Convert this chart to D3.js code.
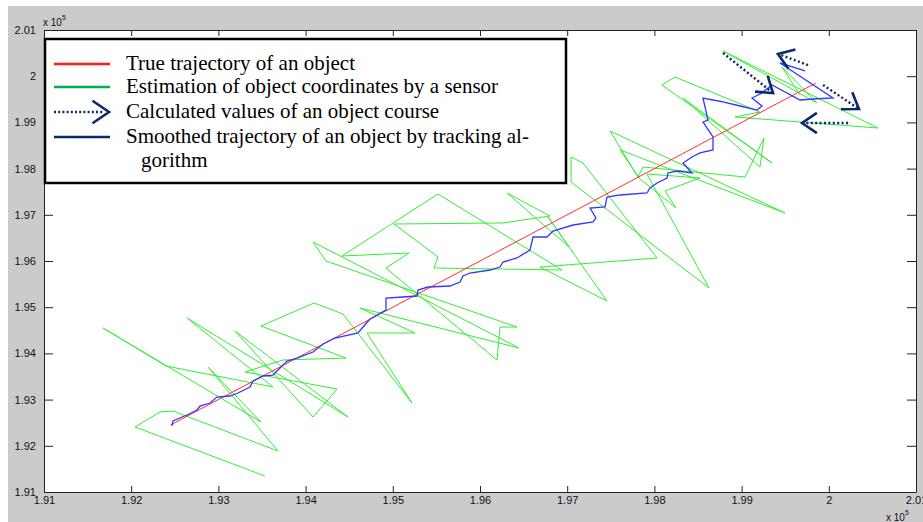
<!DOCTYPE html>
<html>
<head>
<meta charset="utf-8">
<script src="https://cdn.jsdelivr.net/npm/d3@7"></script>
<style>
  html, body { margin: 0; padding: 0; background: #fff; }
  svg { display: block; }
</style>
</head>
<body>
<div id="chart"></div>
<script>
// axis ticks (values are in metres, axes show them as x 10^5)
let xTicks = [191000, 192000, 193000, 194000, 195000, 196000, 197000, 198000, 199000, 200000, 201000]
let yTicks = [191000, 192000, 193000, 194000, 195000, 196000, 197000, 198000, 199000, 200000, 201000]
let tickLabels = ['1.91', '1.92', '1.93', '1.94', '1.95', '1.96', '1.97', '1.98', '1.99', '2', '2.01']

// true trajectory
let trueX = [192450, 194000, 196000, 198000, 199850]
let trueY = [192450, 194000, 196000, 198000, 199850]

// sensor estimates
let sensorX = [193534, 192044, 192330, 192479, 193684, 192881, 193489, 191677, 192399, 193626,
  192640, 194486, 193190, 194085, 194360, 193305, 193741, 194463, 193489, 194096,
  194429, 195220, 194704, 195255, 194624, 196447, 194085, 194234, 196424, 196229,
  196195, 194922, 195186, 194417, 195518, 196940, 195473, 195518, 195014, 196264,
  196803, 196310, 197021, 196780, 197456, 196688, 198030, 197181, 197044, 197044,
  198626, 197915, 198523, 198122, 198248, 197835, 197606, 199498, 197491, 197812,
  197869, 199039, 199257, 199211, 198328, 199349, 198087, 198236, 199211, 198924,
  200564, 198787, 199865, 199463, 199670]
let sensorY = [191346, 192407, 192732, 192753, 191887, 193706, 192515, 194550, 193727, 193273,
  194766, 192623, 194485, 192623, 193229, 193597, 193857, 193900, 194593, 195091,
  194853, 192926, 194442, 194442, 194983, 194117, 196411, 196000, 194571, 194571,
  193857, 195848, 196173, 196108, 197450, 195805, 195848, 196087, 196801, 196823,
  196974, 197472, 196303, 196952, 195134, 195870, 196065, 198121, 198251, 197710,
  195416, 197883, 197797, 197515, 197147, 197775, 198403, 197039, 198814, 197818,
  198035, 197818, 198662, 198035, 199528, 198121, 199810, 199983, 199225, 199117,
  198879, 200545, 199420, 200199, 199593]

// smoothed trajectory from the tracking algorithm
let smoothX = [192468, 192479, 192583, 192640, 192755, 192789, 192904, 192984, 193133, 193225,
  193362, 193397, 193511, 193626, 193706, 193787, 193901, 194085, 194200, 194337,
  194601, 194658, 194739, 194819, 194922, 194922, 195117, 195278, 195289, 195404,
  195656, 195771, 195805, 195885, 196115, 196229, 196264, 196424, 196573, 196608,
  196768, 196837, 197067, 197296, 197330, 197262, 197434, 197456, 197606, 197915,
  197950, 198030, 198145, 198156, 198259, 198431, 198328, 198431, 198523, 198672,
  198672, 198557, 198615, 198557, 198672, 198787, 198982, 199177, 199234, 199119,
  199211, 199349, 199670, 199819, 200048, 199440, 199727]
let smoothY = [192429, 192537, 192623, 192667, 192775, 192861, 192926, 193056, 193078, 193143,
  193273, 193403, 193511, 193532, 193684, 193835, 193900, 194030, 194203, 194333,
  194442, 194571, 194745, 194831, 194939, 195199, 195221, 195242, 195372, 195437,
  195459, 195545, 195675, 195740, 195805, 195870, 195978, 196065, 196238, 196519,
  196519, 196649, 196779, 196844, 196931, 197147, 197169, 197385, 197429, 197472,
  197580, 197688, 197797, 197905, 197948, 197905, 198121, 198251, 198338, 198403,
  198684, 199009, 199052, 199528, 199485, 199442, 199355, 199268, 199355, 199528,
  199615, 199810, 199485, 199506, 199528, 200286, 200113]

// calculated course values (arrow start -> arrow end)
let courseX0 = [198787, 199762, 199934, 200220]
let courseY0 = [200502, 200242, 199810, 198987]
let courseX1 = [199360, 199417, 200346, 199693]
let courseY1 = [199636, 200481, 199290, 198987]

let legendLabels = ['True trajectory of an object', 'Estimation of object coordinates by a sensor',
  'Calculated values of an object course', 'Smoothed trajectory of an object by tracking al-']

let width = 923
let height = 522
let plot = { left: 44, right: 916, top: 30, bottom: 492 }

let svg = d3.select('#chart')
  .append('svg')
  .attr('width', width)
  .attr('height', height)

// grey figure background
svg.append('rect')
  .attr('x', 8).attr('y', 6)
  .attr('width', width - 8).attr('height', height - 6)
  .attr('fill', '#cbcbcb')

svg.append('rect')
  .attr('x', plot.left).attr('y', plot.top)
  .attr('width', plot.right - plot.left).attr('height', plot.bottom - plot.top)
  .attr('fill', '#fff')

let x = d3.scaleLinear().domain([191000, 201000]).range([plot.left, plot.right])
let y = d3.scaleLinear().domain([191000, 201000]).range([plot.bottom, plot.top])

let fmt = d => tickLabels[xTicks.indexOf(d)]
let fmtY = d => tickLabels[yTicks.indexOf(d)]

let tickFont = g => g.selectAll('text')
  .attr('font-family', 'Liberation Sans, Arial, sans-serif')
  .attr('font-size', 11)
  .attr('fill', '#111')

svg.append('g')
  .attr('transform', 'translate(0,' + plot.bottom + ')')
  .call(d3.axisBottom(x).tickValues(xTicks).tickFormat(fmt).tickSizeInner(-6).tickSizeOuter(0).tickPadding(4))
  .call(tickFont)

svg.append('g')
  .attr('transform', 'translate(' + plot.left + ',0)')
  .call(d3.axisLeft(y).tickValues(yTicks).tickFormat(fmtY).tickSizeInner(-9).tickSizeOuter(0).tickPadding(8))
  .call(tickFont)

svg.append('g')
  .attr('transform', 'translate(0,' + plot.top + ')')
  .call(d3.axisTop(x).tickValues(xTicks).tickFormat('').tickSizeInner(-6).tickSizeOuter(0))

svg.append('g')
  .attr('transform', 'translate(' + plot.right + ',0)')
  .call(d3.axisRight(y).tickValues(yTicks).tickFormat('').tickSizeInner(-9).tickSizeOuter(0))

svg.selectAll('.domain').attr('stroke', '#222')
svg.selectAll('.tick line').attr('stroke', '#222')

// x 10^5 exponents
let expo = (px, py) => {
  let t = svg.append('text')
    .attr('x', px).attr('y', py)
    .attr('font-family', 'Liberation Sans, Arial, sans-serif')
    .attr('font-size', 10)
    .attr('fill', '#111')
  t.append('tspan').text('x 10')
  t.append('tspan').attr('font-size', 7).attr('dy', -6).text('5')
}
expo(43, 26)
expo(886, 521)

let lineOf = (xs, ys) => d3.line().x((d, i) => x(xs[i])).y((d, i) => y(ys[i]))(xs)

let lines = svg.append('g')

lines.append('path')
  .attr('d', lineOf(sensorX, sensorY))
  .attr('fill', 'none')
  .attr('stroke', '#33ee33')
  .attr('stroke-width', 1)

lines.append('path')
  .attr('d', lineOf(trueX, trueY))
  .attr('fill', 'none')
  .attr('stroke', '#ff3030')
  .attr('stroke-width', 1)

lines.append('path')
  .attr('d', lineOf(smoothX, smoothY))
  .attr('fill', 'none')
  .attr('stroke', '#3535ff')
  .attr('stroke-width', 1.3)

// open chevron arrow head
let chevron = (x0, y0, x1, y1, len) => {
  let a = Math.atan2(y1 - y0, x1 - x0) + Math.PI
  let s = 0.6
  return 'M' + (x1 + len * Math.cos(a + s)) + ',' + (y1 + len * Math.sin(a + s)) +
    'L' + x1 + ',' + y1 +
    'L' + (x1 + len * Math.cos(a - s)) + ',' + (y1 + len * Math.sin(a - s))
}

let navy = '#0c2a66'

let arrows = svg.append('g')
courseX0.forEach((d, i) => {
  let ax = x(courseX0[i]), ay = y(courseY0[i]), bx = x(courseX1[i]), by = y(courseY1[i])
  arrows.append('line')
    .attr('x1', ax).attr('y1', ay).attr('x2', bx).attr('y2', by)
    .attr('stroke', navy)
    .attr('stroke-width', 2.4)
    .attr('stroke-dasharray', '2,2.4')
  arrows.append('path')
    .attr('d', chevron(ax, ay, bx, by, 18))
    .attr('fill', 'none')
    .attr('stroke', navy)
    .attr('stroke-width', 2.6)
})

// legend
let legend = svg.append('g')
legend.append('rect')
  .attr('x', 45).attr('y', 39)
  .attr('width', 521).attr('height', 144)
  .attr('fill', '#fff')
  .attr('stroke', '#000')
  .attr('stroke-width', 2.5)

let rowY = [64, 87, 112, 137]
let swatch = ['#ff1a1a', '#00b050', null, navy]

legendLabels.forEach((d, i) => {
  if (swatch[i]) {
    legend.append('line')
      .attr('x1', 54).attr('x2', 110)
      .attr('y1', rowY[i]).attr('y2', rowY[i])
      .attr('stroke', swatch[i])
      .attr('stroke-width', 2.5)
  } else {
    legend.append('line')
      .attr('x1', 54).attr('x2', 104)
      .attr('y1', rowY[i]).attr('y2', rowY[i])
      .attr('stroke', navy)
      .attr('stroke-width', 2.4)
      .attr('stroke-dasharray', '2,2.2')
    legend.append('path')
      .attr('d', chevron(54, rowY[i], 109, rowY[i], 20))
      .attr('fill', 'none')
      .attr('stroke', navy)
      .attr('stroke-width', 2.6)
  }
  legend.append('text')
    .attr('x', 126).attr('y', rowY[i] + 6)
    .attr('font-family', 'Liberation Serif, Times New Roman, serif')
    .attr('font-size', 21)
    .attr('fill', '#000')
    .text(d)
})

legend.append('text')
  .attr('x', 141).attr('y', 167)
  .attr('font-family', 'Liberation Serif, Times New Roman, serif')
  .attr('font-size', 21)
  .attr('fill', '#000')
  .text('gorithm')
</script>
</body>
</html>
